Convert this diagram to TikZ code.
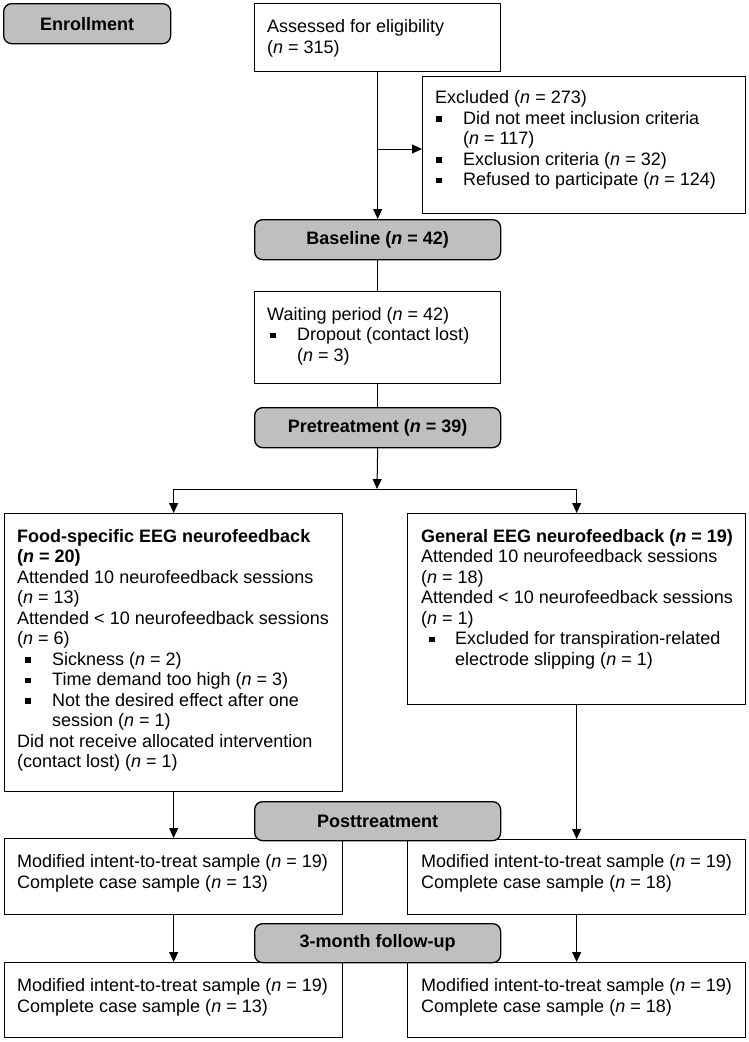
\documentclass[tikz,border=0pt]{standalone}
\usepackage{fontspec}
\setmainfont{Liberation Sans}
\usetikzlibrary{arrows.meta,calc}
\definecolor{gfill}{RGB}{191,191,191}
\newcommand{\bsq}{\raisebox{2.5pt}{\rule{5.5pt}{5.5pt}}}
\newcommand{\bl}[2]{\makebox[#2][l]{\hspace*{#1}\bsq}}
\newcommand{\nn}{\textit{n}}
\begin{document}
\begin{tikzpicture}[x=1pt,y=-1pt,
  wbox/.style={draw, line width=1.3pt, fill=white, inner sep=0pt, anchor=north west},
  gbox/.style={draw, line width=1.3pt, fill=gfill, rounded corners=8pt, inner sep=0pt, anchor=north west, font=\fontsize{18}{20.5}\selectfont\bfseries},
  txt/.style={anchor=north west, inner sep=0pt, align=left, font=\fontsize{18}{20.5}\selectfont},
  conn/.style={line width=1pt},
  arr/.style={conn, -{Triangle[length=10pt,width=9pt]}}]
\useasboundingbox (0,0) rectangle (749,1042);
% boxes
\node[gbox, minimum width=167pt, minimum height=40pt] (enroll) at (3,3) {Enrollment};
\node[wbox, minimum width=246pt, minimum height=68pt] (assessed) at (254,3) {};
\node[txt] (assessedT) at (267,18) {\strut Assessed for eligibility\\(\nn{} = 315)};
\node[wbox, minimum width=323pt, minimum height=137pt] (excluded) at (422,76) {};
\node[txt] (excludedT) at (435,89) {\strut Excluded (\nn{} = 273)\\
\bl{1pt}{28pt}Did not meet inclusion criteria\\
\hspace*{28pt}(\nn{} = 117)\\
\bl{1pt}{28pt}Exclusion criteria (\nn{} = 32)\\
\bl{1pt}{28pt}Refused to participate (\nn{} = 124)};
\node[gbox, minimum width=246pt, minimum height=40pt] (baseline) at (254,219) {Baseline (\textit{n} = 42)};
\node[wbox, minimum width=246pt, minimum height=92pt] (waiting) at (254,291) {};
\node[txt] (waitingT) at (267,305.5) {\strut Waiting period (\nn{} = 42)\\
\bl{3pt}{30pt}Dropout (contact lost)\\
\hspace*{30pt}(\nn{} = 3)};
\node[gbox, minimum width=246pt, minimum height=40pt] (pretreat) at (254,407) {Pretreatment (\textit{n} = 39)};
\node[wbox, minimum width=338pt, minimum height=278pt] (food) at (4,513) {};
\node[txt] (foodT) at (17,527.5) {\strut\textbf{Food-specific EEG neurofeedback}\\
\textbf{(\textit{n} = 20)}\\
Attended 10 neurofeedback sessions\\
(\nn{} = 13)\\
Attended < 10 neurofeedback sessions\\
(\nn{} = 6)\\
\bl{8pt}{35pt}Sickness (\nn{} = 2)\\
\bl{8pt}{35pt}Time demand too high (\nn{} = 3)\\
\bl{8pt}{35pt}Not the desired effect after one\\
\hspace*{35pt}session (\nn{} = 1)\\
Did not receive allocated intervention\\
(contact lost) (\nn{} = 1)};
\node[wbox, minimum width=338pt, minimum height=191pt] (general) at (407,513) {};
\node[txt] (generalT) at (421,527.5) {\strut\textbf{General EEG neurofeedback (\textit{n} = 19)}\\
Attended 10 neurofeedback sessions\\
(\nn{} = 18)\\
Attended < 10 neurofeedback sessions\\
(\nn{} = 1)\\
\bl{8pt}{34pt}Excluded for transpiration-related\\
\hspace*{34pt}electrode slipping (\nn{} = 1)};
\node[wbox, minimum width=338pt, minimum height=76pt] (postL) at (4,838) {};
\node[txt] (postLT) at (17,853) {\strut Modified intent-to-treat sample (\nn{} = 19)\\
Complete case sample (\nn{} = 13)};
\node[wbox, minimum width=338pt, minimum height=75pt] (postR) at (407,839) {};
\node[txt] (postRT) at (421,853) {\strut Modified intent-to-treat sample (\nn{} = 19)\\
Complete case sample (\nn{} = 18)};
\node[gbox, minimum width=246pt, minimum height=39pt] (post) at (254,801) {Posttreatment};
\node[wbox, minimum width=338pt, minimum height=75pt] (fuL) at (4,962) {};
\node[txt] (fuLT) at (17,977) {\strut Modified intent-to-treat sample (\nn{} = 19)\\
Complete case sample (\nn{} = 13)};
\node[wbox, minimum width=338pt, minimum height=75pt] (fuR) at (407,962) {};
\node[txt] (fuRT) at (421,977) {\strut Modified intent-to-treat sample (\nn{} = 19)\\
Complete case sample (\nn{} = 18)};
\node[gbox, minimum width=246pt, minimum height=39pt] (fu) at (254,923) {3-month follow-up};
% connectors
\coordinate (br) at (377,149);
\coordinate (split) at (377,489);
\draw[arr] (assessed.south) -- (baseline.north);
\draw[arr] (br) -- (br -| excluded.west);
\draw[conn] (baseline.south) -- (waiting.north);
\draw[conn] (waiting.south) -- (pretreat.north);
\draw[arr] (pretreat.south) -- (split);
\draw[conn] (split -| food.north) -- (split -| general.north);
\draw[arr] (split -| food.north) -- (food.north);
\draw[arr] (split -| general.north) -- (general.north);
\draw[arr] (food.south) -- (postL.north);
\draw[arr] (general.south) -- (postR.north);
\draw[arr] (postL.south) -- (fuL.north);
\draw[arr] (postR.south) -- (fuR.north);
\end{tikzpicture}
\end{document}
